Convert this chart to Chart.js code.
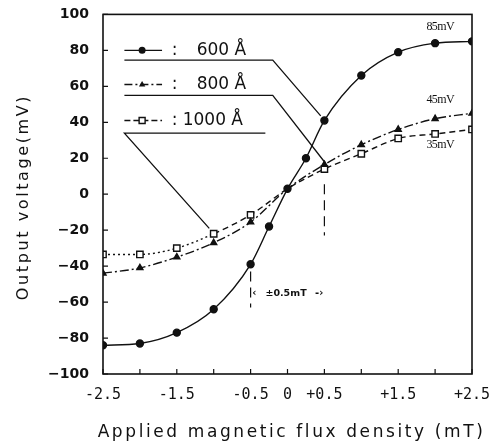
<!DOCTYPE html>
<html>
<head>
<meta charset="utf-8">
<script src="https://cdn.jsdelivr.net/npm/chart.js@4"></script>
<style>
  html, body { margin: 0; padding: 0; background: #fff; }
</style>
</head>
<body>
<canvas id="chart" width="491" height="447"></canvas>
<script>
// flux density (mT) for each series
const flux600 = [-2.5, -2, -1.5, -1, -0.5, -0.25, 0, 0.25, 0.5, 1, 1.5, 2, 2.5];
const volt600 = [-84, -83, -77, -64, -39, -18, 3, 20, 41, 66, 79, 84, 85];

const flux800 = [-2.5, -2, -1.5, -1, -0.5, 0, 0.5, 1, 1.5, 2, 2.5];
const volt800 = [-44, -41, -35, -27, -15.5, 3, 16.5, 27.5, 36, 42, 45];

const flux1000 = [-2.5, -2, -1.5, -1, -0.5, 0, 0.5, 1, 1.5, 2, 2.5];
const volt1000 = [-33.5, -33.5, -30, -22, -11.5, 3, 14, 22.5, 31, 33.5, 36];

const seriesNames = ['600 Å', '800 Å', '1000 Å'];
const endLabels = ['85mV', '45mV', '35mV'];
const xLabeled = [-2.5, -1.5, -0.5, 0, 0.5, 1.5, 2.5];

const toPoints = (xs, ys) => xs.map((x, i) => ({ x: x, y: ys[i] }));

function fmtX(v) {
    if (v === 0) return '0';
    return (v > 0 ? '+' : '-') + Math.abs(v).toFixed(1);
}

// draw a text string with letter spacing (falls back to plain text)
function spacedText(ctx, text, x, y, spacing) {
    ctx.letterSpacing = spacing + 'px';
    ctx.fillText(text, x, y);
    ctx.letterSpacing = '0px';
}

function drawMarker(ctx, style, x, y) {
    ctx.beginPath();
    if (style === 'circle') {
        ctx.arc(x, y, 3.5, 0, Math.PI * 2);
        ctx.fill();
    } else if (style === 'triangle') {
        ctx.moveTo(x, y - 3.5);
        ctx.lineTo(x + 3.2, y + 2);
        ctx.lineTo(x - 3.2, y + 2);
        ctx.closePath();
        ctx.fill();
    } else {
        ctx.fillStyle = '#fff';
        ctx.rect(x - 3, y - 3, 6, 6);
        ctx.fill();
        ctx.stroke();
        ctx.fillStyle = '#111';
    }
}

const annotations = {
    id: 'annotations',
    afterDraw(chart) {
        const { ctx, chartArea: a, scales: { x, y } } = chart;
        const px = v => x.getPixelForValue(v);
        const py = v => y.getPixelForValue(v);
        ctx.save();
        ctx.strokeStyle = '#111';
        ctx.fillStyle = '#111';

        // frame
        ctx.lineWidth = 1.6;
        ctx.strokeRect(a.left, a.top, a.right - a.left, a.bottom - a.top);

        // inward tick marks
        ctx.lineWidth = 1.2;
        ctx.beginPath();
        x.ticks.forEach(t => {
            ctx.moveTo(px(t.value), a.bottom);
            ctx.lineTo(px(t.value), a.bottom - 5);
        });
        y.ticks.forEach(t => {
            ctx.moveTo(a.left, py(t.value));
            ctx.lineTo(a.left + 5, py(t.value));
        });
        ctx.stroke();

        // axis titles
        ctx.font = '17px "DejaVu Sans"';
        ctx.textAlign = 'center';
        ctx.textBaseline = 'alphabetic';
        spacedText(ctx, 'Applied magnetic flux density (mT)', (a.left + a.right) / 2 + 4, 437, 2.6);
        ctx.save();
        ctx.translate(28, 197);
        ctx.rotate(-Math.PI / 2);
        ctx.font = '16px "DejaVu Sans"';
        spacedText(ctx, 'Output voltage(mV)', 0, 0, 2.6);
        ctx.restore();

        // legend rows with leader lines
        const rowY = [80, 61, 41];
        const styles = ['circle', 'triangle', 'rect'];
        const dashes = [[], [8, 3, 2, 3], [6, 3]];
        const leaders = [
            [[-2.21, 74.6], [-0.2, 74.6], [0.45, 43.6]],
            [[-2.21, 55], [-0.2, 55], [0.51, 17.5]],
            [[-0.3, 34], [-2.21, 34], [-1.06, -19]]
        ];
        ctx.font = '17px "DejaVu Sans"';
        ctx.textBaseline = 'middle';
        for (let i = 0; i < 3; i++) {
            const yy = py(rowY[i]);
            ctx.lineWidth = 1.4;
            ctx.setLineDash(dashes[i]);
            ctx.beginPath();
            ctx.moveTo(px(-2.21), yy);
            ctx.lineTo(px(-1.70), yy);
            ctx.stroke();
            ctx.setLineDash([]);
            drawMarker(ctx, styles[i], px(-1.97), yy);

            ctx.textAlign = 'left';
            ctx.fillText(':', px(-1.57), yy);
            ctx.fillText(seriesNames[i], px(i === 2 ? -1.42 : -1.23), yy);

            ctx.lineWidth = 1.3;
            ctx.beginPath();
            leaders[i].forEach((p, k) => {
                if (k === 0) ctx.moveTo(px(p[0]), py(p[1]));
                else ctx.lineTo(px(p[0]), py(p[1]));
            });
            ctx.stroke();
        }

        // saturation labels
        ctx.font = '12px "Liberation Serif"';
        ctx.textAlign = 'center';
        const endY = [93, 52.5, 27.5];
        endLabels.forEach((s, i) => {
            spacedText(ctx, s, px(2.07), py(endY[i]), -0.6);
        });

        // +-0.5 mT range markers
        ctx.lineWidth = 1.2;
        ctx.setLineDash([10, 6]);
        ctx.beginPath();
        ctx.moveTo(px(-0.5), py(-43));
        ctx.lineTo(px(-0.5), py(-63));
        ctx.moveTo(px(0.5), py(5.5));
        ctx.lineTo(px(0.5), py(-23));
        ctx.stroke();
        ctx.setLineDash([]);
        ctx.font = 'bold 9.5px "DejaVu Sans"';
        ctx.textAlign = 'center';
        ctx.fillText('±0.5mT', px(-0.02), py(-55));
        ctx.font = 'bold 10px "DejaVu Sans"';
        ctx.fillText('‹', px(-0.45), py(-55));
        ctx.fillText('-›', px(0.43), py(-55));

        ctx.restore();
    }
};

const commonLine = {
    showLine: true,
    borderColor: '#111',
    backgroundColor: '#111',
    borderWidth: 1.4,
    cubicInterpolationMode: 'monotone',
    pointBorderColor: '#111',
    pointHoverRadius: 0,
};

new Chart(document.getElementById('chart'), {
    type: 'scatter',
    data: {
        datasets: [
            {
                ...commonLine,
                label: seriesNames[0],
                data: toPoints(flux600, volt600),
                pointStyle: 'circle',
                pointRadius: 3.5,
                pointBackgroundColor: '#111',
            },
            {
                ...commonLine,
                label: seriesNames[1],
                data: toPoints(flux800, volt800),
                borderDash: [9, 3, 2, 3],
                pointStyle: 'triangle',
                pointRadius: ctx => (ctx.raw && ctx.raw.x === 0 ? 0 : 3.5),
                pointBackgroundColor: '#111',
            },
            {
                ...commonLine,
                label: seriesNames[2],
                data: toPoints(flux1000, volt1000),
                segment: {
                    borderDash: ctx => (ctx.p1.parsed.x <= -1 ? [2, 3] : [6, 4])
                },
                pointStyle: 'rect',
                pointRadius: ctx => (ctx.raw && ctx.raw.x === 0 ? 0 : 4.5),
                pointBackgroundColor: '#fff',
                pointBorderWidth: 1.4,
            }
        ]
    },
    options: {
        responsive: false,
        animation: false,
        layout: { padding: { top: 2, right: 19, left: 0, bottom: 0 } },
        plugins: {
            legend: { display: false },
            tooltip: { enabled: false }
        },
        scales: {
            x: {
                type: 'linear',
                min: -2.5,
                max: 2.5,
                afterFit: scale => {
                    scale.height = 73;
                    scale.paddingRight = 0;
                    scale.paddingLeft = 0;
                },
                grid: { display: false },
                border: { display: false },
                ticks: {
                    stepSize: 0.5,
                    autoSkip: false,
                    maxRotation: 0,
                    padding: 4,
                    color: '#111',
                    font: { family: 'DejaVu Sans Mono', size: 15 },
                    callback: v => (xLabeled.includes(v) ? fmtX(v) : '')
                }
            },
            y: {
                min: -100,
                max: 100,
                afterFit: scale => { scale.width = 103; },
                grid: { display: false },
                border: { display: false },
                ticks: {
                    stepSize: 20,
                    padding: 6,
                    color: '#111',
                    font: { family: 'DejaVu Sans', size: 14, weight: 'bold' },
                    callback: v => (v < 0 ? '\u2212' + Math.abs(v) : String(v))
                }
            }
        }
    },
    plugins: [annotations]
});
</script>
</body>
</html>
